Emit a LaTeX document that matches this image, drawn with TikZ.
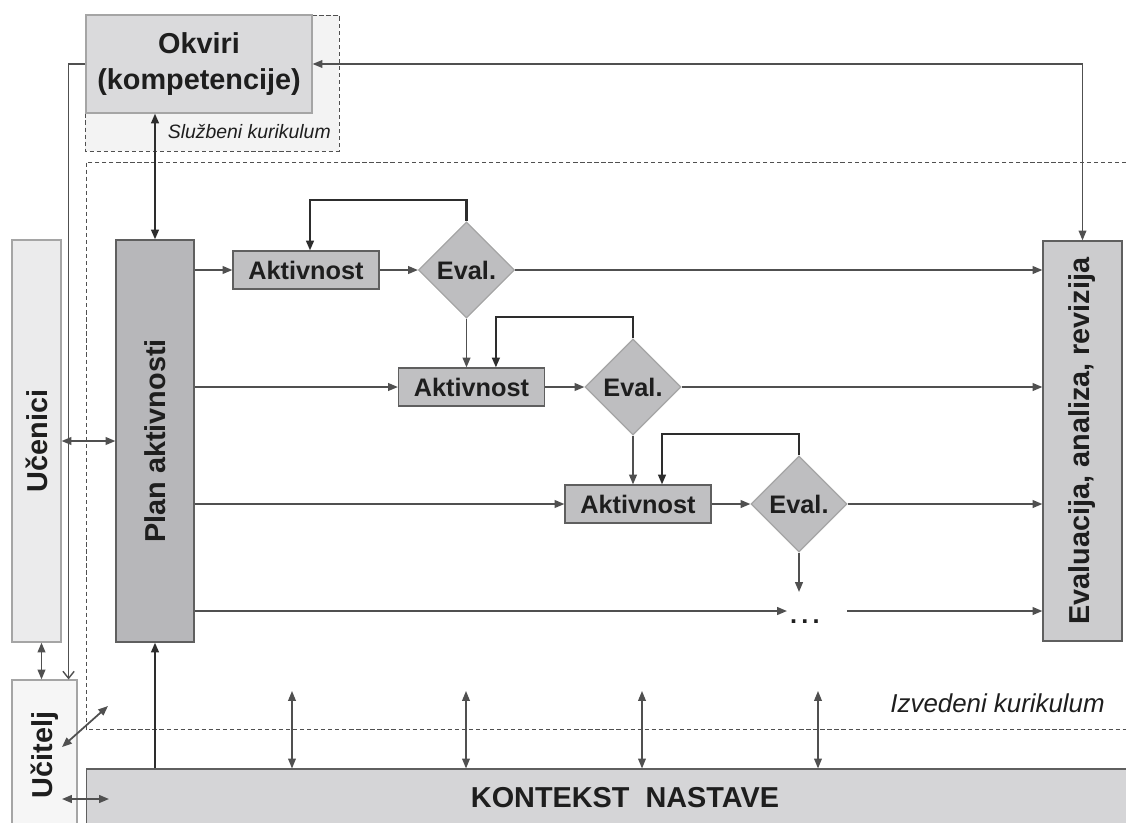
\documentclass[tikz,border=0pt]{standalone}
\usepackage{fontspec}
\setmainfont{Liberation Sans}
\usepackage{graphicx}
\definecolor{linegray}{RGB}{80, 80, 80}
\definecolor{darkline}{RGB}{45, 45, 45}
\definecolor{textdark}{RGB}{30, 30, 30}
\definecolor{okvirfill}{RGB}{218, 218, 220}
\definecolor{sluzfill}{RGB}{243, 243, 243}
\definecolor{ucenfill}{RGB}{235, 235, 236}
\definecolor{ucitfill}{RGB}{246, 246, 246}
\definecolor{planfill}{RGB}{183, 183, 186}
\definecolor{actfill}{RGB}{192, 192, 194}
\definecolor{evfill}{RGB}{190, 190, 192}
\definecolor{revfill}{RGB}{204, 204, 206}
\definecolor{kontfill}{RGB}{213, 213, 215}
\definecolor{lightline}{RGB}{165, 165, 165}
\definecolor{boxline}{RGB}{95, 95, 95}
\usetikzlibrary{shapes.geometric, arrows.meta, positioning, calc}

\begin{document}
\begin{tikzpicture}[x=0.025cm, y=-0.025cm,
  box/.style={draw=boxline, line width=0.8pt, inner sep=0pt, text=textdark, align=center, font=\bfseries\fontsize{20.5}{25.5}\selectfont},
  actbox/.style={draw=boxline, fill=actfill, line width=0.8pt, minimum width=3.65cm, minimum height=0.95cm, inner sep=0pt, text=textdark, font=\bfseries\fontsize{18}{21}\selectfont},
  evbox/.style={diamond, aspect=1, draw=lightline, fill=evfill, line width=0.8pt, minimum size=2.4cm, inner sep=0pt, text=textdark, font=\bfseries\fontsize{18}{21}\selectfont},
  note/.style={inner sep=0pt, text=textdark, font=\itshape},
  arr/.style={draw=linegray, line width=1.25pt, -{Triangle[length=7pt,width=5.5pt]}},
  dbl/.style={draw=linegray, line width=1.25pt, {Triangle[length=7pt,width=5.5pt]}-{Triangle[length=7pt,width=5.5pt]}},
  fb/.style={arr, draw=darkline, line width=1.5pt},
  frame/.style={draw=linegray, line width=0.6pt, dash pattern=on 3pt off 2pt}
]
  \useasboundingbox (0,0) rectangle (1126,823);
  \clip (0,0) rectangle (1126,823);

  % curriculum frames
  \draw[frame, fill=sluzfill] (85,15) rectangle (339,151);
  \draw[frame] (1140,162) -- (86,162) -- (86,729) -- (1140,729);
  \node[note, anchor=east, font=\itshape\fontsize{13.8}{16}\selectfont] (sluz) at (331,132) {Službeni kurikulum};
  \node[note, anchor=east, font=\itshape\fontsize{18.4}{21}\selectfont] (izv) at (1105,703) {Izvedeni kurikulum};

  % main blocks
  \node[box, fill=okvirfill, draw=lightline, minimum width=5.65cm, minimum height=2.45cm] (okviri) at (199,64) {Okviri\\(kompetencije)};
  \node[box, fill=ucenfill, draw=lightline, minimum width=1.225cm, minimum height=10.05cm] (ucenici) at (36.5,441) {\rotatebox{90}{Učenici}};
  \node[box, fill=ucitfill, draw=lightline, minimum width=1.625cm, minimum height=3.75cm] (ucitelj) at (44.5,755) {\rotatebox{90}{Učitelj}};
  \node[box, fill=planfill, minimum width=1.95cm, minimum height=10.05cm] (plan) at (155,441) {\rotatebox{90}{Plan aktivnosti}};
  \node[box, fill=revfill, minimum width=1.975cm, minimum height=10cm] (evalrev) at (1082.5,441) {\rotatebox{90}{Evaluacija, analiza, revizija}};
  \node[box, fill=kontfill, minimum width=26.9cm, minimum height=1.45cm] (kontekst) at (625,798) {KONTEKST~~NASTAVE};

  % activities and evaluations
  \node[actbox] (akt1) at (306,270) {Aktivnost};
  \node[evbox] (ev1) at (466.5,270) {Eval.};
  \node[actbox] (akt2) at (471.5,387) {Aktivnost};
  \node[evbox] (ev2) at (633,387) {Eval.};
  \node[actbox] (akt3) at (638,504) {Aktivnost};
  \node[evbox] (ev3) at (799,504) {Eval.};
  \node[inner sep=0pt, text=textdark, font=\bfseries\fontsize{18}{21}\selectfont] (more) at (805,622) {.\,.\,.};
  \coordinate (r4a) at (787,611);
  \coordinate (r4b) at (847,611);
  \coordinate (r4c) at (799,592);

  % rows
  \draw[arr] (plan.east |- akt1.west) -- (akt1.west);
  \draw[arr] (akt1.east) -- (ev1.west);
  \draw[arr] (ev1.east) -- (ev1.east -| evalrev.west);
  \draw[fb] (ev1.north) -- ++(0,-21) -| ([xshift=0.1cm]akt1.north);
  \draw[arr] (ev1.south) -- (ev1.south |- akt2.north);

  \draw[arr] (plan.east |- akt2.west) -- (akt2.west);
  \draw[arr] (akt2.east) -- (ev2.west);
  \draw[arr] (ev2.east) -- (ev2.east -| evalrev.west);
  \draw[fb] (ev2.north) -- ++(0,-21) -| ([xshift=0.61cm]akt2.north);
  \draw[arr] (ev2.south) -- (ev2.south |- akt3.north);

  \draw[arr] (plan.east |- akt3.west) -- (akt3.west);
  \draw[arr] (akt3.east) -- (ev3.west);
  \draw[arr] (ev3.east) -- (ev3.east -| evalrev.west);
  \draw[fb] (ev3.north) -- ++(0,-21) -| ([xshift=0.6cm]akt3.north);
  \draw[arr] (ev3.south) -- (r4c);

  \draw[arr] (r4a -| plan.east) -- (r4a);
  \draw[arr] (r4b) -- (r4b -| evalrev.west);

  % links around the plan
  \draw[dbl, line width=1pt] (okviri.east) -| (evalrev.north);
  \draw[dbl, draw=darkline, line width=1.5pt] (plan.north |- okviri.south) -- (plan.north);
  \draw[fb] (plan.south |- kontekst.north) -- (plan.south);
  \draw[draw=linegray, line width=1pt, -{Straight Barb[length=5pt,width=8pt]}] (okviri.west) -| ([xshift=-0.225cm]ucitelj.north east);
  \draw[dbl] ([xshift=0.125cm]ucenici.south) -- ([xshift=0.125cm]ucenici.south |- ucitelj.north);
  \draw[dbl] (ucenici.east) -- (plan.west);
  \coordinate (dga) at (62,747);
  \coordinate (dgb) at (108,706);
  \draw[dbl] (dga) -- (dgb);
  \coordinate (hza) at (62,799);
  \coordinate (hzb) at (109,799);
  \draw[dbl] (hza) -- (hzb);
  \foreach \x in {292,466,642,818}{
    \coordinate (k\x) at (\x,691);
    \draw[dbl, line width=0.9pt] (k\x) -- (k\x |- kontekst.north);
  }
\end{tikzpicture}
\end{document}
